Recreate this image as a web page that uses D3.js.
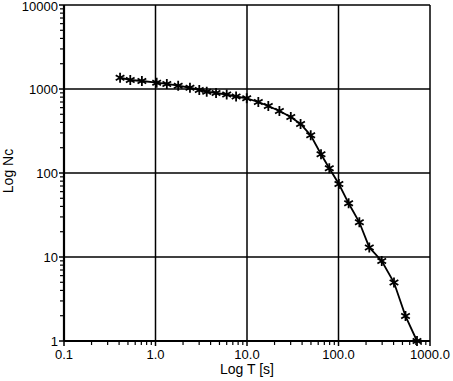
<!DOCTYPE html>
<html lang="en">
<head>
    <meta charset="UTF-8">
    <title>Log Nc vs Log T</title>
    <script src="https://d3js.org/d3.v7.min.js"></script>
    <style>
        body { margin: 0; background: #fff; }
        text { font-family: "Liberation Sans", Arial, sans-serif; font-size: 13px; fill: #000; }
        .title { font-size: 14px; }
    </style>
</head>
<body>
    <div id="chart"></div>
    <script>
        // measured points (time in s, count)
        const timeVals  = [0.41, 0.53, 0.71, 1.03, 1.33, 1.77, 2.38, 3.01, 3.63, 4.59, 6.0, 7.6, 9.93,
                           13.3, 17.1, 22.6, 30.1, 38.5, 49.7, 64.4, 79.3, 101, 129, 169, 217, 297, 404, 540, 721];
        const countVals = [1362, 1280, 1245, 1188, 1148, 1094, 1035, 973, 929, 896, 860, 814, 775,
                           700, 628, 547, 464, 383, 281, 167, 114, 74, 43.6, 25.9, 13.0, 8.96, 4.97, 1.98, 1.0];
        const xTicks = [0.1, 1, 10, 100, 1000];
        const xTickLabels = ["0.1", "1.0", "10.0", "100.0", "1000.0"];
        const yTicks = [1, 10, 100, 1000, 10000];
        const yTickLabels = ["1", "10", "100", "1000", "10000"];

        const width = 453, height = 381;
        const margin = { top: 5, right: 23, bottom: 40, left: 64 };

        const svg = d3.select('#chart').append('svg')
            .attr('width', width)
            .attr('height', height);

        const x = d3.scaleLog().domain([0.1, 1000]).range([margin.left, width - margin.right]);
        const y = d3.scaleLog().domain([1, 10000]).range([height - margin.bottom, margin.top]);

        // minor ticks (2..9 in every decade)
        const minorX = [], minorY = [];
        for (let d = 0.1; d < 1000; d *= 10) for (let k = 2; k <= 9; k++) minorX.push(+(d * k).toPrecision(3));
        for (let d = 1; d < 10000; d *= 10) for (let k = 2; k <= 9; k++) minorY.push(d * k);

        const g = svg.append('g');

        // grid lines at decades
        g.selectAll('.gx').data(xTicks).enter().append('line')
            .attr('x1', d => x(d)).attr('x2', d => x(d))
            .attr('y1', y(10000)).attr('y2', y(1))
            .attr('stroke', '#000').attr('stroke-width', 1.5);
        g.selectAll('.gy').data(yTicks).enter().append('line')
            .attr('x1', x(0.1)).attr('x2', x(1000))
            .attr('y1', d => y(d)).attr('y2', d => y(d))
            .attr('stroke', '#000').attr('stroke-width', 1.5);

        // frame, left and bottom heavier
        g.append('line').attr('x1', x(0.1)).attr('x2', x(0.1)).attr('y1', y(10000)).attr('y2', y(1))
            .attr('stroke', '#000').attr('stroke-width', 2.2);
        g.append('line').attr('x1', x(0.1)).attr('x2', x(1000)).attr('y1', y(1)).attr('y2', y(1))
            .attr('stroke', '#000').attr('stroke-width', 2.2);

        // minor ticks outside
        g.selectAll('.mx').data(minorX).enter().append('line')
            .attr('x1', d => x(d)).attr('x2', d => x(d))
            .attr('y1', y(1)).attr('y2', y(1) + 4)
            .attr('stroke', '#000').attr('stroke-width', 1.2);
        g.selectAll('.my').data(minorY).enter().append('line')
            .attr('x1', x(0.1) - 4).attr('x2', x(0.1))
            .attr('y1', d => y(d)).attr('y2', d => y(d))
            .attr('stroke', '#000').attr('stroke-width', 1.2);
        // major ticks
        g.selectAll('.tx').data(xTicks).enter().append('line')
            .attr('x1', d => x(d)).attr('x2', d => x(d))
            .attr('y1', y(1)).attr('y2', y(1) + 5)
            .attr('stroke', '#000').attr('stroke-width', 1.5);
        g.selectAll('.ty').data(yTicks).enter().append('line')
            .attr('x1', x(0.1) - 5).attr('x2', x(0.1))
            .attr('y1', d => y(d)).attr('y2', d => y(d))
            .attr('stroke', '#000').attr('stroke-width', 1.5);

        // tick labels
        g.selectAll('.lx').data(xTicks).enter().append('text')
            .attr('x', d => x(d)).attr('y', y(1) + 18)
            .attr('text-anchor', 'middle')
            .text((d, i) => xTickLabels[i]);
        g.selectAll('.ly').data(yTicks).enter().append('text')
            .attr('x', x(0.1) - 6).attr('y', d => Math.max(y(d) + 5, 11))
            .attr('text-anchor', 'end')
            .text((d, i) => yTickLabels[i]);

        // axis titles
        svg.append('text').attr('class', 'title').attr('x', x(10)).attr('y', height - 7)
            .attr('text-anchor', 'middle').text('Log T [s]');
        svg.append('text').attr('class', 'title')
            .attr('transform', `translate(13,${y(100) - 2}) rotate(-90)`)
            .attr('text-anchor', 'middle').text('Log Nc');

        // data
        const pts = timeVals.map((t, i) => ({ t: t, n: countVals[i] }));
        svg.append('path').datum(pts)
            .attr('fill', 'none').attr('stroke', '#000').attr('stroke-width', 1.8)
            .attr('d', d3.line().x(d => x(d.t)).y(d => y(d.n)));

        svg.selectAll('.pt').data(pts).enter().append('path')
            .attr('transform', d => `translate(${x(d.t)},${y(d.n)})`)
            .attr('d', d3.symbol().type(d3.symbolAsterisk).size(70))
            .attr('fill', 'none').attr('stroke', '#000').attr('stroke-width', 1.8);
    </script>
</body>
</html>
